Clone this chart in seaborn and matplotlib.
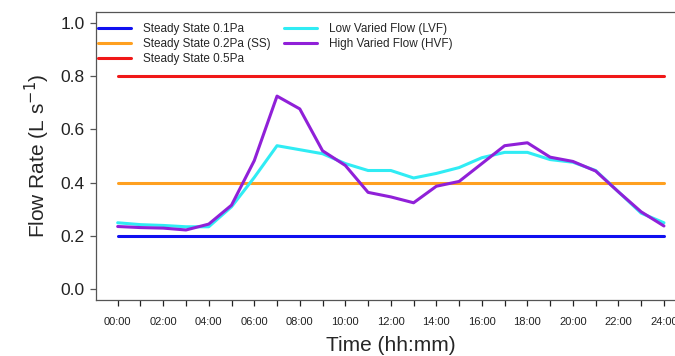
import pandas as pd
import matplotlib
matplotlib.use("Agg")
import matplotlib.pyplot as plt
import seaborn as sns

# Hourly flow rates (L/s), 00:00 to 24:00
hours = list(range(25))
lvf = [0.250, 0.243, 0.240, 0.235, 0.235, 0.310, 0.420, 0.539, 0.524, 0.509,
       0.472, 0.446, 0.446, 0.418, 0.435, 0.457, 0.494, 0.514, 0.514, 0.487,
       0.477, 0.446, 0.366, 0.286, 0.250]
hvf = [0.236, 0.232, 0.230, 0.223, 0.245, 0.316, 0.483, 0.725, 0.677, 0.520,
       0.465, 0.364, 0.347, 0.325, 0.387, 0.405, 0.472, 0.539, 0.550, 0.496,
       0.480, 0.444, 0.366, 0.291, 0.238]
steady_01 = [0.2] * 25
steady_02 = [0.4] * 25
steady_05 = [0.8] * 25

series_names = ["Steady State 0.1Pa", "Steady State 0.2Pa (SS)", "Steady State 0.5Pa",
                "Low Varied Flow (LVF)", "High Varied Flow (HVF)"]
colors = ["#1010f0", "#ffa020", "#f01818", "#30ecf4", "#9020d8"]
tick_labels = [f"{h:02d}:00" if h % 2 == 0 else "" for h in hours]

frames = []
for name, vals in zip(series_names, [steady_01, steady_02, steady_05, lvf, hvf]):
    frames.append(pd.DataFrame({"hour": hours, "flow": vals, "series": name}))
df = pd.concat(frames, ignore_index=True)

sns.set_style("ticks")
plt.rcParams['font.family'] = ['Liberation Sans', 'DejaVu Sans']

fig = plt.figure(figsize=(6.75, 3.56), dpi=100)
ax = fig.add_axes([0.142, 0.157, 0.874, 0.809])

sns.lineplot(data=df, x="hour", y="flow", hue="series", hue_order=series_names,
             palette=dict(zip(series_names, colors)), linewidth=2.2, ax=ax)

ax.set_xlim(-0.96, 24.96)
ax.set_ylim(-0.04, 1.04)
ax.set_xticks(hours)
ax.set_xticklabels(tick_labels, fontsize=8)
ax.set_yticks([0.0, 0.2, 0.4, 0.6, 0.8, 1.0])
ax.set_yticklabels(["0.0", "0.2", "0.4", "0.6", "0.8", "1.0"], fontsize=12.5, color="#222222")
ax.tick_params(axis="both", length=4.5, width=0.9, color="#555555")
ax.tick_params(axis="x", pad=8, colors="#222222")
for sp in ax.spines.values():
    sp.set_color("#555555")
    sp.set_linewidth(0.9)

ax.set_xlabel("Time (hh:mm)", fontsize=15, labelpad=6)
ax.set_ylabel("Flow Rate (L s$^{-1}$)", fontsize=15, labelpad=6)

leg = ax.legend(loc="upper left", bbox_to_anchor=(0.0, 0.971), ncol=2, frameon=False,
                fontsize=8.5, handlelength=2.8, handletextpad=1.0, columnspacing=1.1,
                labelspacing=0.27, borderaxespad=0.0, borderpad=0.2)
for line in leg.get_lines():
    line.set_linewidth(2.2)

fig.savefig("out.png", dpi=100)
